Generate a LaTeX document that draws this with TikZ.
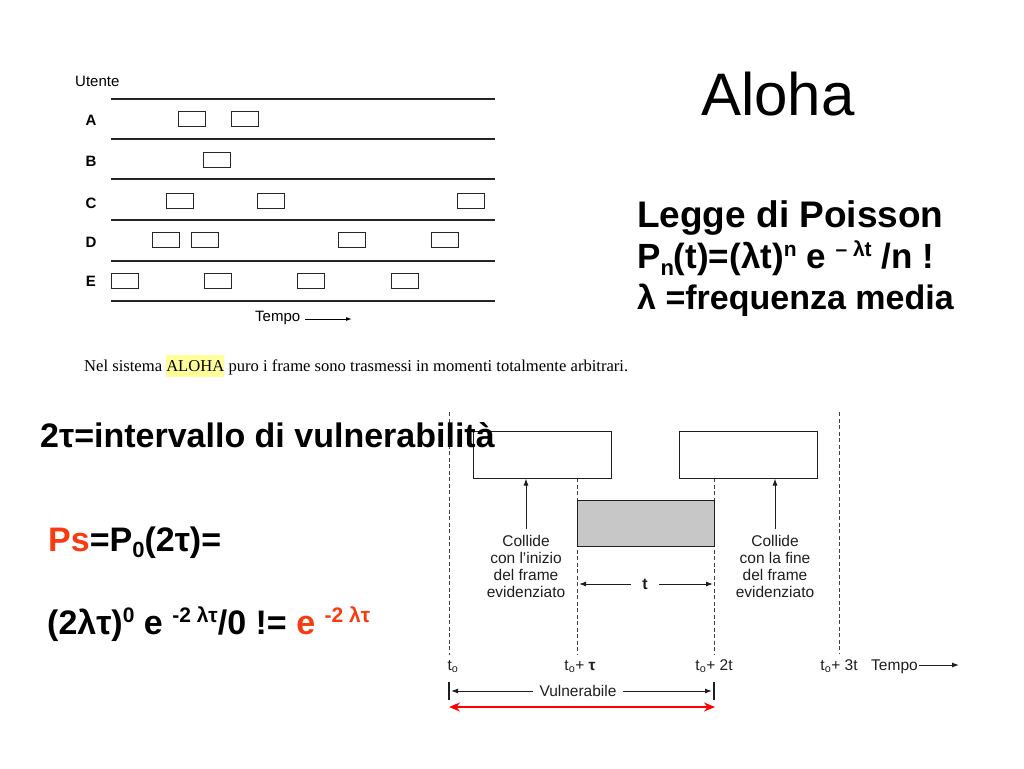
\documentclass[tikz,border=0pt]{standalone}
\usepackage{fontspec}
\setmainfont{Liberation Sans}
\newfontfamily\capserif{Liberation Serif}
\usetikzlibrary{arrows.meta}
\definecolor{psred}{HTML}{F83A10}
\definecolor{hl}{HTML}{FFFF9A}
\definecolor{ink}{HTML}{1E1E1E}
\newcommand{\supr}[1]{\raisebox{0.33em}{\fontsize{21}{24}\selectfont #1}}
\newcommand{\subr}[1]{\raisebox{-0.2em}{\fontsize{22}{24}\selectfont #1}}
\begin{document}
\begin{tikzpicture}[x=1pt,y=-1pt,
  lane/.style={line width=1.5pt, black!85},
  frame/.style={draw=black!85, line width=1.3pt, minimum width=27pt, minimum height=15pt, inner sep=0pt},
  lbl/.style={font=\fontsize{15}{17}\selectfont, text=black, inner sep=0pt},
  small/.style={font=\fontsize{15.5}{17}\selectfont, text=ink, inner sep=1pt},
  big/.style={font=\fontsize{34}{41}\selectfont\bfseries, inner sep=0pt, anchor=base west},
  bigbox/.style={draw=ink, line width=1pt, inner sep=0pt, minimum height=47pt},
  vdash/.style={draw=black!75, line width=1pt, dash pattern=on 4pt off 2.5pt},
  arr/.style={draw=ink, line width=1pt, -{Latex[length=7pt,width=5pt]}},
]
\useasboundingbox (0,0) rectangle (1024,768);

% ---------- top-left diagram ----------
\node[lbl, anchor=west] (utente) at (75,81) {Utente};
\foreach \y in {99,139,179,220,261,301}
  \draw[lane] (111,\y) -- (495,\y);
\foreach \l/\y in {A/120,B/161,C/203,D/242,E/281}
  \node[lbl, font=\fontsize{15}{17}\selectfont\bfseries] (lab\l) at (91,\y) {\l};
\foreach \n/\x/\y in {a1/178/111, a2/231/111, b1/203/152, c1/166/193, c2/257/193, c3/457/193, d1/152/232, d2/191/232, d3/338/232, d4/431/232, e1/111/273, e2/204/273, e3/297/273, e4/391/273}
  \node[frame, anchor=north west] (f\n) at (\x,\y) {};
\node[lbl, anchor=west] (tempo1) at (255,318) {Tempo};
\coordinate (tempo1end) at (352,319);
\draw[line width=1pt, -{Latex[length=6pt,width=4pt]}] (tempo1.east |- tempo1end) ++(5,0) -- (tempo1end);

% caption
\node[anchor=base west, inner sep=0pt, font=\capserif\fontsize{16.6}{19}\selectfont] (caption) at (84,371)
  {Nel sistema {\fboxsep=0pt\colorbox{hl}{\rule[-6pt]{0pt}{22pt}ALOHA}} puro i frame sono trasmessi in momenti totalmente arbitrari.};

% ---------- title and Poisson ----------
\node[anchor=base west, inner sep=0pt, font=\fontsize{60}{72}\selectfont] (title) at (701,115) {Aloha};
\node[big, font=\fontsize{37}{41}\selectfont\bfseries] (p1) at (637,227) {Legge di Poisson};
\node[big, font=\fontsize{35}{41}\selectfont\bfseries] (p2) at (637,268) {P\subr{n}(t)=(λt)\supr{n} e \supr{– λt} /n !};
\node[big, font=\fontsize{34}{41}\selectfont\bfseries] (p3) at (637,309) {λ =frequenza media};

% ---------- bottom diagram ----------
\coordinate (d0t) at (449,412); \coordinate (d0b) at (449,655);
\coordinate (d1t) at (577,478); \coordinate (d1b) at (577,655);
\coordinate (d2t) at (714,478); \coordinate (d2b) at (714,655);
\coordinate (d3t) at (839,412); \coordinate (d3b) at (839,653);
\draw[vdash] (d0t) -- (d0b);
\draw[vdash] (d1t) -- (d1b);
\draw[vdash] (d2t) -- (d2b);
\draw[vdash] (d3t) -- (d3b);

\node[bigbox, fill=white, minimum width=138pt] (lf) at (542,454.5) {};
\node[bigbox, fill=white, minimum width=138pt] (rf) at (748,454.5) {};
\node[bigbox, fill=black!22, minimum width=137pt, minimum height=46pt] (gf) at (645.5,523) {};

\node[small, align=center] (lc) at (526,566) {Collide\\con l'inizio\\del frame\\evidenziato};
\node[small, align=center] (rc) at (775,566) {Collide\\con la fine\\del frame\\evidenziato};
\draw[arr, shorten <=5pt] (lc.north) -- (lc.north |- lf.south);
\draw[arr, shorten <=5pt] (rc.north) -- (rc.north |- rf.south);

\node[small, inner sep=0pt, font=\fontsize{16}{17}\selectfont\bfseries] (tl) at (645,584) {t};
\coordinate (ta) at (579,584); \coordinate (tb) at (713,584);
\draw[arr, shorten <=11pt] (tl) -- (ta);
\draw[arr, shorten <=11pt] (tl) -- (tb);

\node[small, anchor=base] (l0) at (453,670) {t\textsubscript{o}};
\node[small, anchor=base] (l1) at (580,670) {t\textsubscript{o}+ \textbf{τ}};
\node[small, anchor=base] (l2) at (714,670) {t\textsubscript{o}+ 2t};
\node[small, anchor=base] (l3) at (839,670) {t\textsubscript{o}+ 3t};
\node[small, anchor=base west] (tempo2) at (870,670) {Tempo};
\coordinate (tempo2end) at (959,665);
\draw[arr] (tempo2.east |- tempo2end) -- (tempo2end);

\coordinate (vla) at (449,682); \coordinate (vlb) at (449,700);
\coordinate (vra) at (714,682); \coordinate (vrb) at (714,700);
\draw[draw=ink, line width=1.2pt] (vla) -- (vlb);
\draw[draw=ink, line width=1.2pt] (vra) -- (vrb);
\node[small] (vul) at (578,691) {Vulnerabile};
\coordinate (vl) at (451,691); \coordinate (vr) at (712,691);
\draw[arr, shorten <=5pt] (vul) -- (vl);
\draw[arr, shorten <=5pt] (vul) -- (vr);

\coordinate (ra) at (449,707); \coordinate (rb) at (715,707);
\draw[draw=red, line width=2.6pt, {Stealth[length=11pt,width=9pt]}-{Stealth[length=11pt,width=9pt]}] (ra) -- (rb);

% ---------- bottom-left formulas ----------
\node[big] (vuln) at (40,447) {2τ=intervallo di vulnerabilità};
\node[big] (ps) at (48,551) {{\color{psred}Ps}=P\subr{0}(2τ)=};
\node[big] (form) at (47,634) {(2λτ)\supr{0} e \supr{-2 λτ}/0 != {\color{psred}e \supr{-2 λτ}}};
\end{tikzpicture}
\end{document}
